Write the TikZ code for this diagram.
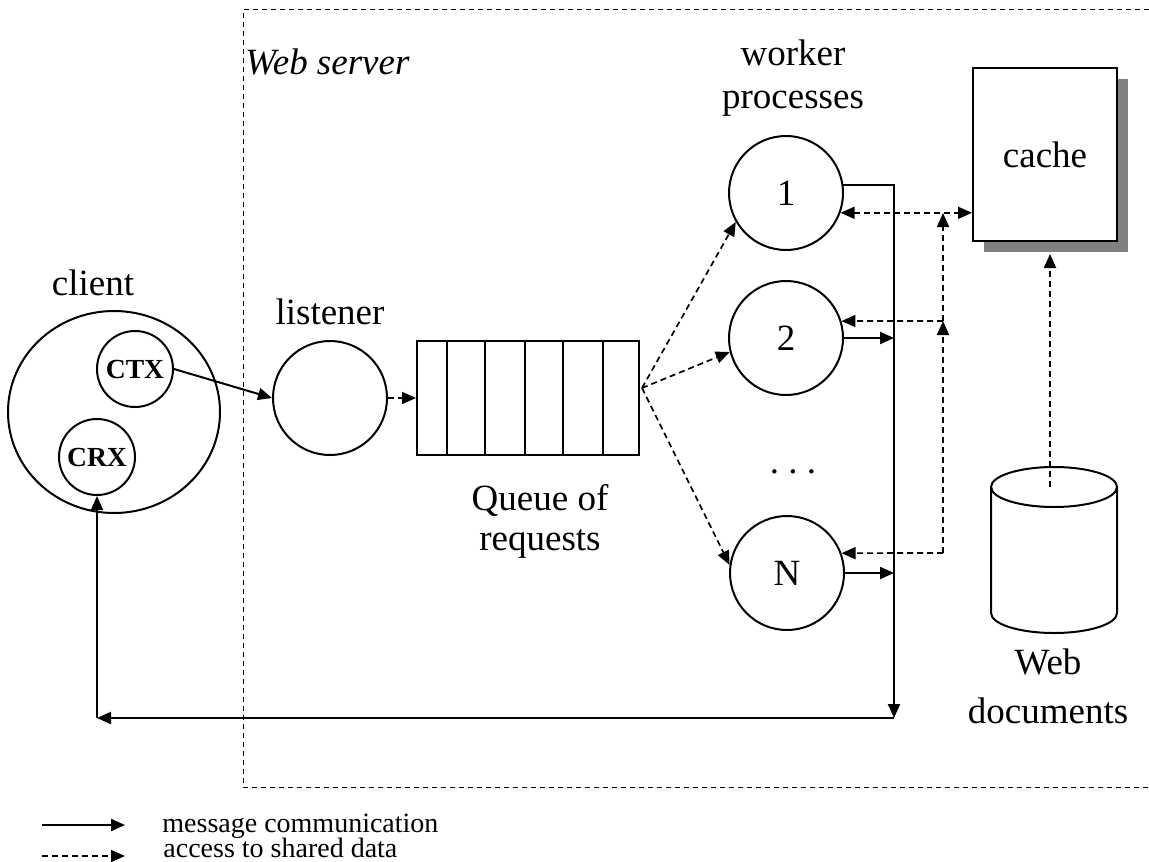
\documentclass[tikz,border=0pt]{standalone}
\usepackage{fontspec}
\setmainfont{Liberation Serif}
\usetikzlibrary{arrows.meta, positioning, shapes.geometric, shadows}

\newcommand{\lblfont}{\fontsize{18.5}{21.5}\selectfont}
\newcommand{\tagfont}{\fontsize{13.8}{16}\selectfont\bfseries}
\newcommand{\keyfont}{\fontsize{14}{15}\selectfont}

\begin{document}
\begin{tikzpicture}[x=0.5pt, y=-0.5pt,
    proc/.style={circle, draw, line width=1pt, minimum size=57pt, inner sep=0pt, font=\lblfont},
    subproc/.style={circle, draw, line width=1pt, minimum size=38pt, inner sep=0pt, font=\tagfont},
    caption/.style={inner sep=0pt, align=center, font=\lblfont},
    msg/.style={-{Triangle[length=7pt, width=6pt]}, line width=1pt},
    shared/.style={-{Triangle[length=7pt, width=6pt]}, line width=0.85pt, dash pattern=on 3pt off 2pt},
    boundary/.style={line width=0.5pt, dash pattern=on 2.5pt off 2pt},
]
    \useasboundingbox (0,0) rectangle (1149,861);

    % Web server boundary (open to the right)
    \draw[boundary] (1149,10) -- (243,10) -- (243,787) -- (1149,787);
    \node[caption, anchor=base west, font=\lblfont\itshape] (srv) at (245,75) {Web server};

    % Left: client with its two threads
    \node[ellipse, draw, line width=1pt, minimum width=106pt, minimum height=101pt, inner sep=0pt] (client) at (114,412) {};
    \node[caption, above=7pt of client, xshift=-10.5pt] (clientlbl) {client};
    \node[subproc] (ctx) at (135,369) {CTX};
    \node[subproc] (crx) at (97,457) {CRX};

    % Middle: listener and request queue
    \node[proc] (listener) at (330,398) {};
    \node[caption, above=7.5pt of listener] (listenerlbl) {listener};
    \node[draw, line width=1pt, minimum width=111pt, minimum height=57pt, inner sep=0pt] (queue) at (528,398) {};
    \foreach \qx in {447,485,525,563,603}
        \draw[line width=1pt] (\qx,341) -- (\qx,455);
    \node[caption, below=14pt of queue, xshift=6pt] (queuelbl) {Queue of\\[-1.5pt]requests};
    \coordinate (fan) at (642,388);

    % Right: worker pool
    \node[proc] (w1) at (786,193) {1};
    \node[proc] (w2) at (786,338) {2};
    \node[proc] (wN) at (787,573) {N};
    \node[caption, anchor=base] (dots) at (793,473) {.\ .\ .};
    \node[caption, above=9pt of w1, xshift=3.5pt] (workerlbl) {worker\\processes};

    % Far right: cache and document store
    \node[draw, line width=1pt, fill=white, minimum width=72pt, minimum height=86.5pt, inner sep=0pt, font=\lblfont,
          drop shadow={shadow xshift=5.5pt, shadow yshift=-5.5pt, fill=black!50, opacity=1}] (cache) at (1045,154.5) {cache};
    \draw[line width=1pt, fill=white] (991,487) -- (991,613)
        arc[start angle=180, end angle=0, x radius=63, y radius=20] -- (1117,487);
    \draw[line width=1pt] (1054,487) ellipse [x radius=63, y radius=20];
    \coordinate (docstop) at (1050,487);
    \coordinate (cachefoot) at (1050,254);
    \node[caption] (docslbl) at (1048,686) {Web\\[3pt]documents};

    % Message paths
    \coordinate (busbot) at (894,718);
    \coordinate (ret) at (97,718);
    \draw[msg] (ctx.east) -- (listener.west);
    \draw[msg] (w1.8) -| (busbot);
    \draw[msg] (w2) -- (w2 -| busbot);
    \draw[msg] (wN) -- (wN -| busbot);
    \draw[msg] (busbot) -- (ret);
    \draw[msg] (ret) -- (crx);

    % Shared data access
    \coordinate (sh2) at (943,321);
    \coordinate (sh1) at (943,213);
    \coordinate (shN) at (943,553);
    \draw[shared] (listener) -- (queue);
    \draw[shared] (fan) -- (w1.210);
    \draw[shared] (fan) -- (w2.194);
    \draw[shared] (fan) -- (wN.172);
    \draw[shared, {Triangle[length=7pt, width=6pt]}-{Triangle[length=7pt, width=6pt]}] (w1.-20) -- (w1.-20 -| cache.west);
    \draw[shared] (shN) -- (sh2);
    \draw[shared] (sh2) -- (sh1);
    \draw[shared] (sh2) -- (w2.17);
    \draw[shared] (shN) -- (wN.20);
    \draw[shared] (docstop) -- (cachefoot);

    % Legend
    \coordinate (keymsgA) at (42,825);
    \coordinate (keymsgB) at (125,825);
    \coordinate (keyshA) at (42,856);
    \coordinate (keyshB) at (125,856);
    \draw[msg] (keymsgA) -- (keymsgB);
    \draw[shared] (keyshA) -- (keyshB);
    \node[anchor=base west, inner sep=0pt, font=\keyfont] (keymsg) at (162,832) {message communication};
    \node[anchor=base west, inner sep=0pt, font=\keyfont] (keysh) at (163,857) {access to shared data};
\end{tikzpicture}
\end{document}
